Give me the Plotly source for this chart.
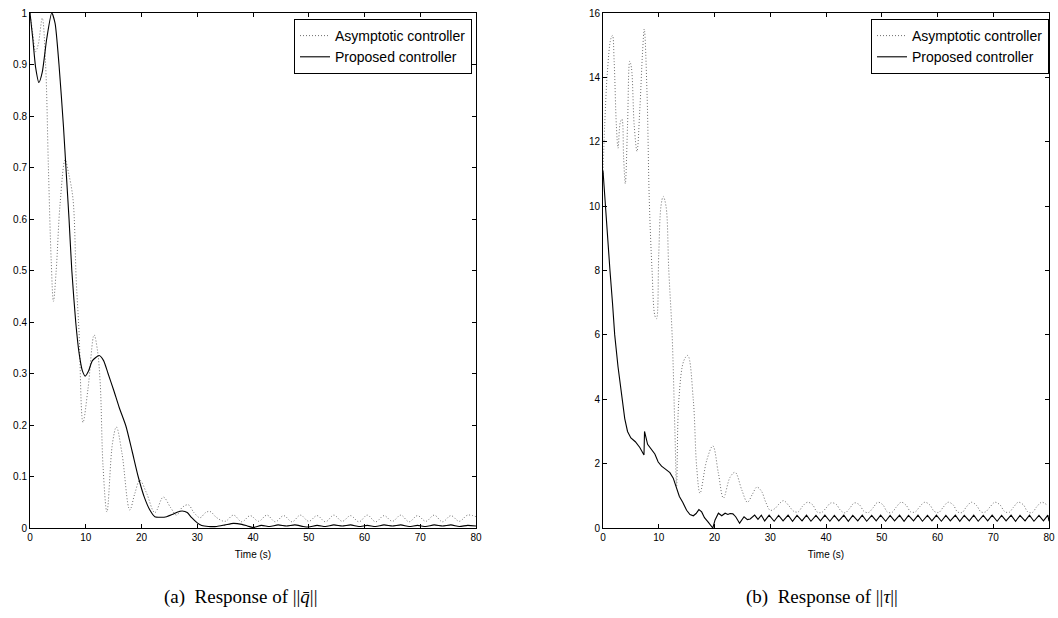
import plotly.graph_objects as go

# ---------------- (a) Response of ||q̄|| ----------------
qa_t = [0, 0.5, 1.0, 1.5, 2.2, 2.8, 3.3, 3.8, 4.2, 4.7, 5.4, 6.3, 6.9, 7.7, 8.3, 8.8, 9.5,
        10.4, 11.5, 12.1, 12.6, 13.1, 13.8, 14.8, 15.5, 16.5, 17.9, 18.8, 19.7, 20.9,
        22.4, 23.9, 25.2, 26.3, 27.3, 28.4, 29.4, 30.5, 31.5, 32.3, 33.5, 35.0, 36.5,
        38.0, 39.5, 41.0, 42.5, 44.0, 45.5, 47.0, 48.5, 50.0, 51.5, 53.0, 54.5, 56.0,
        57.5, 59.0, 60.5, 62.0, 63.5, 65.0, 66.5, 68.0, 69.5, 71.0, 72.5, 74.0, 75.5,
        77.0, 78.5, 80.0]
qa_v = [1.0, 0.96, 0.925, 0.94, 0.99, 0.9, 0.7, 0.52, 0.44, 0.5, 0.63, 0.715, 0.69, 0.64,
        0.48, 0.38, 0.205, 0.27, 0.375, 0.345, 0.28, 0.12, 0.031, 0.165, 0.196, 0.145,
        0.035, 0.067, 0.093, 0.068, 0.03, 0.06, 0.04, 0.025, 0.04, 0.045, 0.03, 0.02,
        0.03, 0.032, 0.02, 0.013, 0.025, 0.012, 0.024, 0.013, 0.025, 0.012, 0.024, 0.012,
        0.025, 0.013, 0.024, 0.012, 0.025, 0.013, 0.024, 0.012, 0.025, 0.012, 0.024,
        0.013, 0.025, 0.012, 0.024, 0.013, 0.025, 0.012, 0.024, 0.013, 0.025, 0.022]

qp_t = [0, 0.5, 1.0, 1.6, 2.2, 3.0, 3.9, 4.5, 5.2, 6.0, 6.5, 7.0, 7.5, 8.2, 8.8, 9.4,
        9.9, 10.5, 11.2, 12.4, 13.2, 14.0, 15.0, 16.0, 17.2, 18.3, 19.4, 20.5, 21.5,
        22.4, 23.5, 24.5, 25.5, 26.5, 27.3, 28.2, 29.0, 30.0, 30.8, 32.0, 33.5, 35.0,
        36.5, 38.0, 39.0, 40.0, 41.5, 43.0, 44.5, 46.0, 47.5, 49.0, 50.0, 51.5, 53.0,
        54.5, 56.0, 57.5, 59.0, 60.5, 62.0, 63.5, 65.0, 66.5, 68.0, 69.5, 71.0, 72.5,
        74.0, 75.5, 77.0, 78.5, 80.0]
qp_v = [1.0, 0.95, 0.895, 0.865, 0.885, 0.95, 1.0, 0.98, 0.9, 0.78, 0.69, 0.6, 0.5, 0.4,
        0.34, 0.305, 0.295, 0.305, 0.325, 0.335, 0.325, 0.3, 0.268, 0.234, 0.198, 0.15,
        0.1, 0.06, 0.035, 0.022, 0.021, 0.022, 0.026, 0.031, 0.033, 0.03, 0.02, 0.01,
        0.005, 0.003, 0.003, 0.006, 0.009, 0.007, 0.004, 0.001, 0.005, 0.003, 0.006,
        0.004, 0.006, 0.003, 0.002, 0.005, 0.003, 0.006, 0.004, 0.006, 0.003, 0.005,
        0.003, 0.006, 0.004, 0.006, 0.003, 0.005, 0.003, 0.006, 0.004, 0.006, 0.003,
        0.005, 0.004]

# ---------------- (b) Response of ||tau|| ----------------
ta_t = [0, 0.3, 0.8, 1.4, 1.7, 2.0, 2.4, 2.7, 3.1, 3.4, 3.7, 4.0, 4.4, 4.8, 5.1, 5.6,
        6.1, 6.6, 7.1, 7.4, 7.9, 8.3, 8.8, 9.3, 9.6, 10.0, 10.4, 10.8, 11.3, 11.8, 12.4,
        12.9, 13.2, 13.6, 14.5, 15.2, 16.2, 16.8, 17.4, 18.6, 19.7, 20.7, 21.6, 22.8,
        23.7, 24.9, 25.9, 26.8, 27.6, 28.4, 29.2, 30.0, 30.8, 31.6, 32.4, 33.3, 34.2,
        35.0, 35.8, 36.7, 37.6, 38.4, 39.2, 40.0, 40.9, 41.8, 42.6, 43.4, 44.2, 45.1,
        46.0, 46.8, 47.6, 48.4, 49.3, 50.2, 51.0, 51.8, 52.6, 53.5, 54.4, 55.2, 56.0,
        56.8, 57.7, 58.6, 59.4, 60.2, 61.0, 61.9, 62.8, 63.6, 64.4, 65.2, 66.1, 67.0,
        67.8, 68.6, 69.4, 70.3, 71.2, 72.0, 72.8, 73.6, 74.5, 75.4, 76.2, 77.0, 77.8,
        78.7, 79.6, 80.0]
ta_v = [11.0, 12.5, 14.2, 15.2, 15.3, 14.5, 12.5, 11.8, 12.6, 12.7, 11.5, 10.7, 12.5,
        14.5, 14.3, 12.5, 11.7, 13.0, 14.8, 15.5, 13.5, 10.2, 8.0, 6.6, 6.5, 8.5, 10.0,
        10.3, 10.0, 8.0, 6.0, 3.0, 1.3, 3.97, 5.2, 5.36, 3.97, 1.9, 1.08, 2.1, 2.55, 1.7,
        0.93, 1.58, 1.73, 1.18, 0.8, 1.05, 1.27, 1.15, 0.8, 0.55, 0.6, 0.75, 0.85, 0.7,
        0.52, 0.5, 0.68, 0.8, 0.72, 0.5, 0.48, 0.62, 0.78, 0.74, 0.55, 0.47, 0.6, 0.78,
        0.72, 0.52, 0.48, 0.62, 0.8, 0.72, 0.5, 0.48, 0.65, 0.8, 0.7, 0.5, 0.5, 0.66,
        0.8, 0.72, 0.52, 0.48, 0.64, 0.8, 0.72, 0.5, 0.48, 0.66, 0.8, 0.7, 0.5, 0.5,
        0.65, 0.8, 0.72, 0.52, 0.48, 0.64, 0.8, 0.72, 0.5, 0.48, 0.66, 0.8, 0.72]

tp_t = [0, 0.3, 0.7, 1.25, 1.7, 2.1, 2.7, 3.4, 3.9, 4.4, 5.0, 5.8, 6.6, 7.35, 7.45, 8.0,
        8.7, 9.3, 9.9, 10.5, 11.2, 12.0, 12.6, 13.2, 13.7, 14.3, 15.0, 15.6, 16.2, 16.7,
        17.2, 17.7, 18.2, 18.8, 19.3, 19.7, 20.1, 20.7, 21.3, 21.9, 22.4, 22.8, 23.3,
        23.8, 24.5, 25.3, 25.9, 26.4, 27.2, 27.8, 28.4, 29.0, 29.8, 30.7, 31.5, 32.3,
        33.2, 34.0, 34.8, 35.7, 36.5, 37.3, 38.2, 39.0, 39.8, 40.7, 41.5, 42.3, 43.2,
        44.0, 44.8, 45.7, 46.5, 47.3, 48.2, 49.0, 49.8, 50.7, 51.5, 52.3, 53.2, 54.0,
        54.8, 55.7, 56.5, 57.3, 58.2, 59.0, 59.8, 60.7, 61.5, 62.3, 63.2, 64.0, 64.8,
        65.7, 66.5, 67.3, 68.2, 69.0, 69.8, 70.7, 71.5, 72.3, 73.2, 74.0, 74.8, 75.7,
        76.5, 77.3, 78.2, 79.0, 79.8, 80.0]
tp_v = [11.1, 10.3, 9.2, 8.0, 7.0, 6.0, 5.0, 4.0, 3.4, 3.0, 2.8, 2.68, 2.5, 2.27, 3.0,
        2.6, 2.42, 2.3, 2.05, 1.92, 1.83, 1.72, 1.55, 1.25, 0.98, 0.8, 0.55, 0.42, 0.38,
        0.45, 0.57, 0.5, 0.32, 0.2, 0.1, 0.0, 0.25, 0.46, 0.38, 0.46, 0.42, 0.45, 0.44,
        0.35, 0.15, 0.35, 0.26, 0.28, 0.4, 0.27, 0.4, 0.22, 0.4, 0.21, 0.39, 0.22, 0.4,
        0.21, 0.39, 0.22, 0.4, 0.21, 0.39, 0.22, 0.4, 0.21, 0.39, 0.22, 0.4, 0.21, 0.39,
        0.22, 0.4, 0.21, 0.39, 0.22, 0.4, 0.21, 0.39, 0.22, 0.4, 0.21, 0.39, 0.22, 0.4,
        0.21, 0.39, 0.22, 0.4, 0.21, 0.39, 0.22, 0.4, 0.21, 0.39, 0.22, 0.4, 0.21, 0.39,
        0.22, 0.4, 0.21, 0.39, 0.22, 0.4, 0.21, 0.39, 0.22, 0.4, 0.21, 0.39, 0.22, 0.4,
        0.21, 0.35]

x_ticks = [0, 10, 20, 30, 40, 50, 60, 70, 80]
qa_yticks = [0, 0.1, 0.2, 0.3, 0.4, 0.5, 0.6, 0.7, 0.8, 0.9, 1]
tau_yticks = [0, 2, 4, 6, 8, 10, 12, 14, 16]
series_names = ["Asymptotic controller", "Proposed controller"]
captions = ["(a)  Response of ||<i>q̄</i>||", "(b)  Response of ||<i>τ</i>||"]

SANS = "Liberation Sans, Arial, sans-serif"
SERIF = "Liberation Serif, Times New Roman, serif"
DOT = dict(color="#6e6e6e", width=1, dash="1px,2px")
SOLID = dict(color="black", width=1.1)

fig = go.Figure()
fig.add_trace(go.Scatter(x=qa_t, y=qa_v, mode="lines", name=series_names[0], line=DOT,
                         line_shape="spline", xaxis="x", yaxis="y", legend="legend"))
fig.add_trace(go.Scatter(x=qp_t, y=qp_v, mode="lines", name=series_names[1], line=SOLID,
                         line_shape="spline", line_smoothing=0.6, xaxis="x", yaxis="y", legend="legend"))
fig.add_trace(go.Scatter(x=ta_t, y=ta_v, mode="lines", name=series_names[0], line=DOT,
                         line_shape="spline", xaxis="x2", yaxis="y2", legend="legend2"))
fig.add_trace(go.Scatter(x=tp_t, y=tp_v, mode="lines", name=series_names[1], line=SOLID,
                         xaxis="x2", yaxis="y2", legend="legend2"))

W, H = 1058, 618
ydom = [(H - 528) / H, (H - 13) / H]
axis_common = dict(showline=True, linecolor="black", linewidth=1, mirror="ticks",
                   ticks="inside", ticklen=4, tickcolor="black", showgrid=False,
                   zeroline=False, automargin=False,
                   tickfont=dict(family=SANS, size=10, color="black"))
title_font = dict(family=SANS, size=10, color="black")
legend_common = dict(xanchor="right", yanchor="top", bgcolor="white", bordercolor="black",
                     borderwidth=1, font=dict(family=SANS, size=14, color="black"),
                     tracegroupgap=0, itemwidth=30)

fig.update_layout(
    template="none",
    width=W, height=H, margin=dict(l=0, r=0, t=0, b=0, autoexpand=False),
    paper_bgcolor="white", plot_bgcolor="white",
    xaxis=dict(domain=[30 / W, 476 / W], range=[0, 80], tickvals=x_ticks, anchor="y",
               title=dict(text="Time (s)", font=title_font, standoff=8), **axis_common),
    yaxis=dict(domain=ydom, range=[0, 1], tickvals=qa_yticks, anchor="x", **axis_common),
    xaxis2=dict(domain=[603 / W, 1049 / W], range=[0, 80], tickvals=x_ticks, anchor="y2",
                title=dict(text="Time (s)", font=title_font, standoff=8), **axis_common),
    yaxis2=dict(domain=ydom, range=[0, 16], tickvals=tau_yticks, anchor="x2", **axis_common),
    legend=dict(x=472 / W, y=1 - 19 / H, **legend_common),
    legend2=dict(x=1049 / W, y=1 - 19 / H, **legend_common),
    annotations=[
        dict(text=captions[0], x=240 / W, y=1 - 597 / H, xref="paper", yref="paper",
             showarrow=False, xanchor="center", yanchor="middle",
             font=dict(family=SERIF, size=19, color="black")),
        dict(text=captions[1], x=822 / W, y=1 - 597 / H, xref="paper", yref="paper",
             showarrow=False, xanchor="center", yanchor="middle",
             font=dict(family=SERIF, size=19, color="black")),
    ],
)

fig.write_html("out.html", config={"displayModeBar": False},
               post_script="document.body.style.margin='0';document.body.style.padding='0';"
                           "document.documentElement.style.overflow='hidden';")
